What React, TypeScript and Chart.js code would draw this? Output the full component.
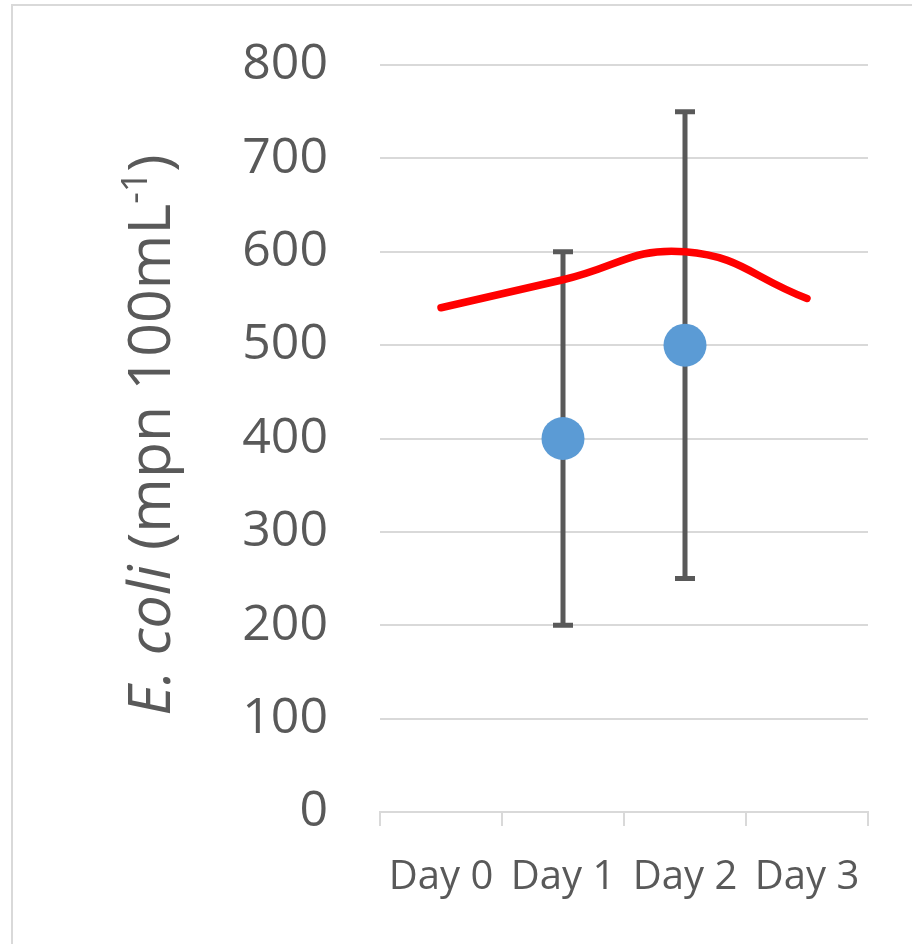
import React, { useEffect, useRef } from "react";
import { Chart, registerables } from "chart.js";

Chart.register(...registerables);

const categories = ["Day 0", "Day 1", "Day 2", "Day 3"];
const meanValues = [null, 400, 500, null];
const errorLow = [null, 200, 250, null];
const errorHigh = [null, 600, 750, null];
const trendValues = [540, 570, 600, 550];
const yMin = 0;
const yMax = 800;
const yStep = 100;

const TEXT = "#595959";
const GRID = "#d9d9d9";
const FONT = "'Open Sans', 'Noto Sans', sans-serif";

const errorBarPlugin = {
  id: "errorBars",
  beforeDatasetsDraw(chart: any) {
    const { ctx } = chart;
    const x = chart.scales.x;
    const y = chart.scales.y;
    ctx.save();
    ctx.strokeStyle = "#595959";
    ctx.lineWidth = 5;
    ctx.lineCap = "butt";
    categories.forEach((_c, i) => {
      const lo = errorLow[i];
      const hi = errorHigh[i];
      if (lo == null || hi == null) return;
      const px = x.getPixelForValue(i);
      const yl = y.getPixelForValue(lo);
      const yh = y.getPixelForValue(hi);
      ctx.beginPath();
      ctx.moveTo(px, yl);
      ctx.lineTo(px, yh);
      ctx.stroke();
      ctx.beginPath();
      ctx.moveTo(px - 10, yl);
      ctx.lineTo(px + 10, yl);
      ctx.moveTo(px - 10, yh);
      ctx.lineTo(px + 10, yh);
      ctx.stroke();
    });
    ctx.restore();
  },
};

const titlePlugin = {
  id: "yTitle",
  afterDraw(chart: any) {
    const { ctx } = chart;
    const size = 59;
    const supSize = 36;
    const parts: { t: string; font: string; dy: number }[] = [
      { t: "E. coli", font: `italic ${size}px ${FONT}`, dy: 0 },
      { t: " (mpn 100mL", font: `${size}px ${FONT}`, dy: 0 },
      { t: "-1", font: `${supSize}px ${FONT}`, dy: -23 },
      { t: ")", font: `${size}px ${FONT}`, dy: 0 },
    ];
    ctx.save();
    let total = 0;
    const widths = parts.map((p) => {
      ctx.font = p.font;
      const w = ctx.measureText(p.t).width;
      total += w;
      return w;
    });
    const cx = 170;
    const cy = 435;
    ctx.translate(cx, cy);
    ctx.rotate(-Math.PI / 2);
    ctx.fillStyle = TEXT;
    ctx.textBaseline = "alphabetic";
    ctx.textAlign = "left";
    let pos = -total / 2;
    parts.forEach((p, i) => {
      ctx.font = p.font;
      ctx.fillText(p.t, pos, p.dy);
      pos += widths[i];
    });
    ctx.restore();
  },
};

function ChartView() {
  const ref = useRef<HTMLCanvasElement | null>(null);
  useEffect(() => {
    if (!ref.current) return;
    const chart = new Chart(ref.current, {
      type: "line",
      data: {
        labels: categories,
        datasets: [
          {
            label: "Mean",
            data: meanValues as any,
            showLine: false,
            pointRadius: 21.5,
            pointHoverRadius: 21.5,
            pointBackgroundColor: "#5b9bd5",
            pointBorderColor: "#5b9bd5",
            pointBorderWidth: 0,
          },
          {
            label: "Trend",
            data: trendValues,
            borderColor: "#ff0000",
            borderWidth: 7.5,
            borderCapStyle: "round",
            tension: 0.45,
            pointRadius: 0,
            fill: false,
          },
        ],
      },
      options: {
        responsive: false,
        animation: false,
        events: [],
        layout: { padding: { left: 0, right: 44, top: 65, bottom: 0 } },
        plugins: {
          legend: { display: false },
          tooltip: { enabled: false },
          title: { display: false },
        },
        scales: {
          x: {
            type: "category",
            offset: true,
            grid: {
              offset: true,
              display: true,
              drawOnChartArea: false,
              drawTicks: true,
              tickLength: 14,
              color: GRID,
              lineWidth: 2,
            },
            border: { display: true, color: GRID, width: 2 },
            ticks: {
              color: TEXT,
              font: { family: FONT, size: 40 },
              padding: 28,
              maxRotation: 0,
              autoSkip: false,
            },
            afterFit(scale: any) {
              scale.height = 132;
              scale.paddingLeft = 0;
              scale.paddingRight = 0;
            },
          },
          y: {
            min: yMin,
            max: yMax,
            grid: {
              color: GRID,
              lineWidth: 2,
              drawTicks: false,
            },
            border: { display: false },
            ticks: {
              stepSize: yStep,
              color: TEXT,
              font: { family: FONT, size: 50 },
              padding: 52,
            },
            afterFit(scale: any) {
              scale.width = 380;
              scale.paddingTop = 0;
              scale.paddingBottom = 0;
            },
          },
        },
      },
      plugins: [errorBarPlugin, titlePlugin],
    });
    return () => chart.destroy();
  }, []);
  return <canvas ref={ref} width={912} height={944} style={{ width: 912, height: 944, display: "block" }} />;
}

export default function App() {
  return (
    <div
      style={{
        position: "fixed",
        left: 0,
        top: 0,
        width: 912,
        height: 944,
        overflow: "hidden",
        background: "#ffffff",
      }}
    >
      <ChartView />
      <div
        style={{
          position: "absolute",
          left: 11,
          top: 4,
          width: 1200,
          height: 1200,
          border: `2px solid ${GRID}`,
          pointerEvents: "none",
        }}
      />
    </div>
  );
}
